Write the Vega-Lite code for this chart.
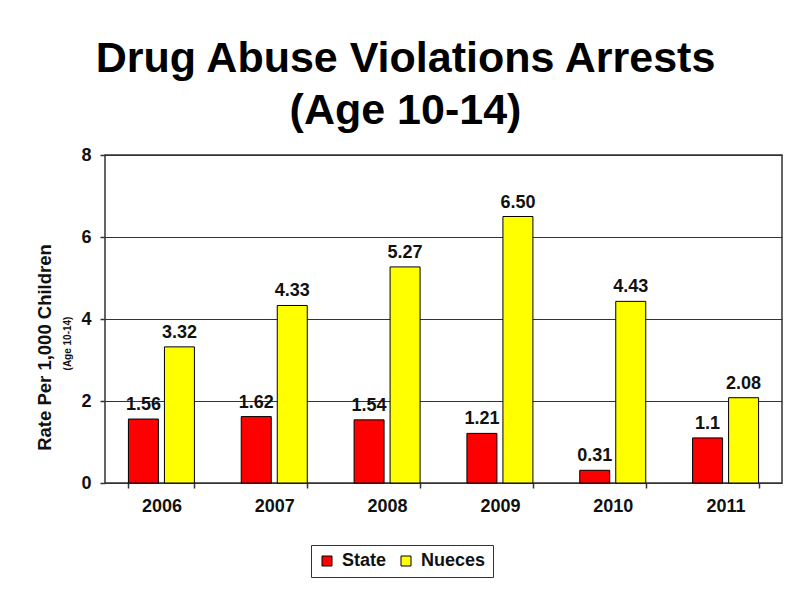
{
  "$schema": "https://vega.github.io/schema/vega-lite/v6.json",
  "autosize": {"type": "none"},
  "padding": {"left": 105, "top": 155, "right": 9, "bottom": 116},
  "width": 677,
  "height": 328,
  "background": "white",
  "config": {
    "font": "Liberation Sans",
    "view": {"stroke": "#333333", "strokeWidth": 1.5},
    "axis": {"labelFont": "Liberation Sans", "titleFont": "Liberation Sans"}
  },
  "title": {
    "text": ["Drug Abuse Violations Arrests", "(Age 10-14)"],
    "font": "Liberation Sans",
    "fontSize": 43,
    "fontWeight": "bold",
    "color": "#000000",
    "lineHeight": 52,
    "anchor": "middle",
    "frame": "group",
    "dx": -38,
    "offset": 13
  },
  "data": {
    "values": [
      {"year": "2006", "series": "State", "value": 1.56, "label": "1.56"},
      {"year": "2006", "series": "Nueces", "value": 3.32, "label": "3.32"},
      {"year": "2007", "series": "State", "value": 1.62, "label": "1.62"},
      {"year": "2007", "series": "Nueces", "value": 4.33, "label": "4.33"},
      {"year": "2008", "series": "State", "value": 1.54, "label": "1.54"},
      {"year": "2008", "series": "Nueces", "value": 5.27, "label": "5.27"},
      {"year": "2009", "series": "State", "value": 1.21, "label": "1.21"},
      {"year": "2009", "series": "Nueces", "value": 6.5, "label": "6.50"},
      {"year": "2010", "series": "State", "value": 0.31, "label": "0.31"},
      {"year": "2010", "series": "Nueces", "value": 4.43, "label": "4.43"},
      {"year": "2011", "series": "State", "value": 1.1, "label": "1.1"},
      {"year": "2011", "series": "Nueces", "value": 2.08, "label": "2.08"}
    ]
  },
  "encoding": {
    "x": {
      "field": "year",
      "type": "nominal",
      "scale": {"paddingInner": 0.415, "paddingOuter": 0.2075},
      "axis": {
        "title": null,
        "labelAngle": 0,
        "labelFontSize": 18,
        "labelFontWeight": "bold",
        "labelColor": "#111111",
        "labelPadding": 9,
        "tickBand": "extent",
        "tickSize": 5,
        "tickColor": "#333333",
        "tickWidth": 1.5,
        "domain": false,
        "grid": false
      }
    },
    "xOffset": {
      "field": "series",
      "type": "nominal",
      "sort": ["State", "Nueces"],
      "scale": {"paddingInner": 0.167, "paddingOuter": 0}
    }
  },
  "layer": [
    {
      "mark": {"type": "bar", "stroke": "#000000", "strokeWidth": 1},
      "encoding": {
        "y": {
          "field": "value",
          "type": "quantitative",
          "scale": {"domain": [0, 8]},
          "axis": {
            "orient": "left",
            "values": [0, 2, 4, 6, 8],
            "title": "Rate Per 1,000 Children",
            "titleFontSize": 18.5,
            "titleFontWeight": "bold",
            "titleColor": "#111111",
            "titleX": -61,
            "titleY": 192,
            "titleAlign": "center",
            "titleBaseline": "middle",
            "titleAngle": -90,
            "labelFontSize": 18,
            "labelFontWeight": "bold",
            "labelColor": "#111111",
            "labelPadding": 9,
            "tickSize": 5,
            "tickColor": "#333333",
            "tickWidth": 1.5,
            "domain": false,
            "grid": true,
            "gridColor": "#333333",
            "gridWidth": 1.2
          }
        },
        "color": {
          "field": "series",
          "type": "nominal",
          "sort": ["State", "Nueces"],
          "scale": {"domain": ["State", "Nueces"], "range": ["#FF0000", "#FFFF00"]},
          "legend": {
            "title": null,
            "orient": "none",
            "legendX": 206,
            "legendY": 390,
            "direction": "horizontal",
            "strokeColor": "#333333",
            "padding": 7,
            "symbolType": "square",
            "symbolSize": 100,
            "symbolStrokeColor": "#000000",
            "symbolStrokeWidth": 1,
            "symbolOpacity": 1,
            "labelFontSize": 18,
            "labelFontWeight": "bold",
            "labelColor": "#111111",
            "labelOffset": 6,
            "columnPadding": 10
          }
        }
      }
    },
    {
      "mark": {"type": "text", "dy": -9, "baseline": "alphabetic", "fontSize": 18, "fontWeight": "bold", "color": "#111111"},
      "encoding": {
        "y": {
          "field": "value",
          "type": "quantitative",
          "axis": {
            "orient": "left",
            "title": "(Age  10-14)",
            "titleFontSize": 10,
            "titleFontWeight": "bold",
            "titleColor": "#111111",
            "titleX": -38,
            "titleY": 188,
            "titleAlign": "center",
            "titleBaseline": "middle",
            "titleAngle": -90,
            "labels": false,
            "ticks": false,
            "domain": false,
            "grid": false
          }
        },
        "text": {"field": "label"}
      }
    }
  ],
  "resolve": {"axis": {"y": "independent"}}
}
